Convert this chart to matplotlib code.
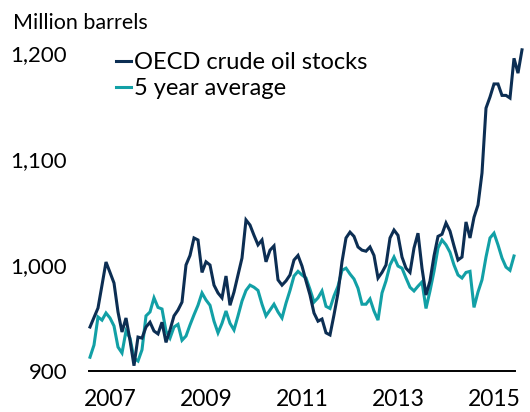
import numpy as np
import matplotlib
matplotlib.use("Agg")
import matplotlib.pyplot as plt
from matplotlib.lines import Line2D

# ---- data (monthly, starting Aug 2006) ----
start_year = 2006 + 7 / 12
oecd_stocks = [
    941.5, 950.5, 959.4, 981, 1002.8, 993, 983, 955.7, 936.8, 950,
    929, 905, 932, 931, 941.5, 946, 937.7, 935, 946, 927,
    938.7, 952, 957.5, 965, 1000, 1009, 1025.5, 1023.6, 993, 1003,
    1000, 981, 973.6, 969, 989.6, 962, 974.5, 990.6, 1006.6, 1042.5,
    1037.7, 1028, 1019, 1023.6, 1003, 1014, 1018, 986, 981, 985,
    990.6, 1004.7, 1009, 999, 985, 971.7, 954.7, 947, 949, 936,
    934, 953, 973.6, 1003, 1025.5, 1031, 1027, 1017, 1014, 1013,
    1017, 1009, 987.7, 993, 1000, 1025.5, 1033, 1028, 1007.5, 997,
    993, 1016, 1030, 997, 971.7, 985, 1008.5, 1027, 1029, 1039.6,
    1032, 1018, 1004.7, 1007.5, 1040.6, 1025.5, 1045, 1056.6, 1086.8, 1148,
    1158.5, 1170.8, 1170.8, 1160, 1160, 1157.5, 1195, 1181, 1203,
]
five_year_avg = [
    913, 924.5, 951, 948, 954.7, 950, 942.5, 922.6, 917, 937.7,
    931, 912, 909.4, 920, 952, 955.7, 969, 960, 958.5, 937.7,
    931, 941.5, 944, 929, 933, 943.4, 953, 962, 973.6, 967,
    962, 947, 936, 945, 956.6, 945, 938.7, 952, 966, 976,
    981, 979, 976, 963, 952, 957.5, 963, 955.7, 950, 964,
    976, 989.6, 994, 990.6, 987.7, 977, 965, 969, 975.5, 961,
    959, 970.8, 980, 995, 997, 991.5, 986.8, 978, 963, 963,
    968, 956.6, 948, 973.6, 985, 1000, 1007.5, 999, 997, 987.7,
    979, 975.5, 980, 984, 959, 975.5, 994, 1016, 1023.6, 1019,
    1012, 1000, 990.6, 987.7, 993, 994, 960, 974.5, 986, 1007.5,
    1025.5, 1030, 1019, 1006.6, 998, 995, 1008.5,
]
series_names = ["OECD crude oil stocks", "5 year average"]
year_ticks = [2007, 2009, 2011, 2013, 2015]
value_ticks = [900, 1000, 1100, 1200]

dark = "#0c2e53"
teal = "#12a0a6"

x1 = start_year + np.arange(len(oecd_stocks)) / 12
x2 = start_year + np.arange(len(five_year_avg)) / 12

W, H = 530, 412
fig = plt.figure(figsize=(W / 100, H / 100), dpi=100)
ax = fig.add_axes([88 / W, (H - 371) / H, (526 - 88) / W, (371 - 37) / H])

ax.plot(x1, oecd_stocks, color=dark, lw=2.2, solid_joinstyle="miter", clip_on=False, zorder=3)
ax.plot(x2, five_year_avg, color=teal, lw=2.2, solid_joinstyle="miter", clip_on=False, zorder=2)

ax.set_xlim(2007 + (88 - 110) / 48, 2007 + (526 - 110) / 48)
ax.set_ylim(900, 900 + (371 - 37) / 1.06)

for s in ["top", "right", "left"]:
    ax.spines[s].set_visible(False)
ax.spines["bottom"].set_linewidth(1.4)
ax.spines["bottom"].set_color("black")
ax.spines["bottom"].set_bounds(2007 + (89 - 110) / 48, 2007 + (515 - 110) / 48)

ax.set_xticks(year_ticks)
ax.set_xticklabels([str(y) for y in year_ticks], family=["Liberation Sans Narrow", "Lato"], fontsize=16.5)
ax.set_yticks(value_ticks)
ax.set_yticklabels([f"{v:,}" for v in value_ticks], family="Lato", fontsize=16)
ax.tick_params(axis="both", length=0, colors="black")
ax.tick_params(axis="x", pad=13)
ax.tick_params(axis="y", pad=15)

fig.text(13 / W, 1 - 29 / H, "Million barrels", family=["Liberation Sans Narrow", "Lato"],
         fontsize=15.5, ha="left", va="baseline")

handles = [Line2D([], [], color=dark, lw=2.2), Line2D([], [], color=teal, lw=2.2)]
fig.legend(handles, series_names, loc="upper left", bbox_to_anchor=(116 / W, 1 - 52 / H),
           frameon=False, prop={"family": "Lato", "size": 17}, handlelength=0.65,
           handletextpad=0.12, borderpad=0, borderaxespad=0, labelspacing=0.22)

fig.savefig("out.png", dpi=100)
